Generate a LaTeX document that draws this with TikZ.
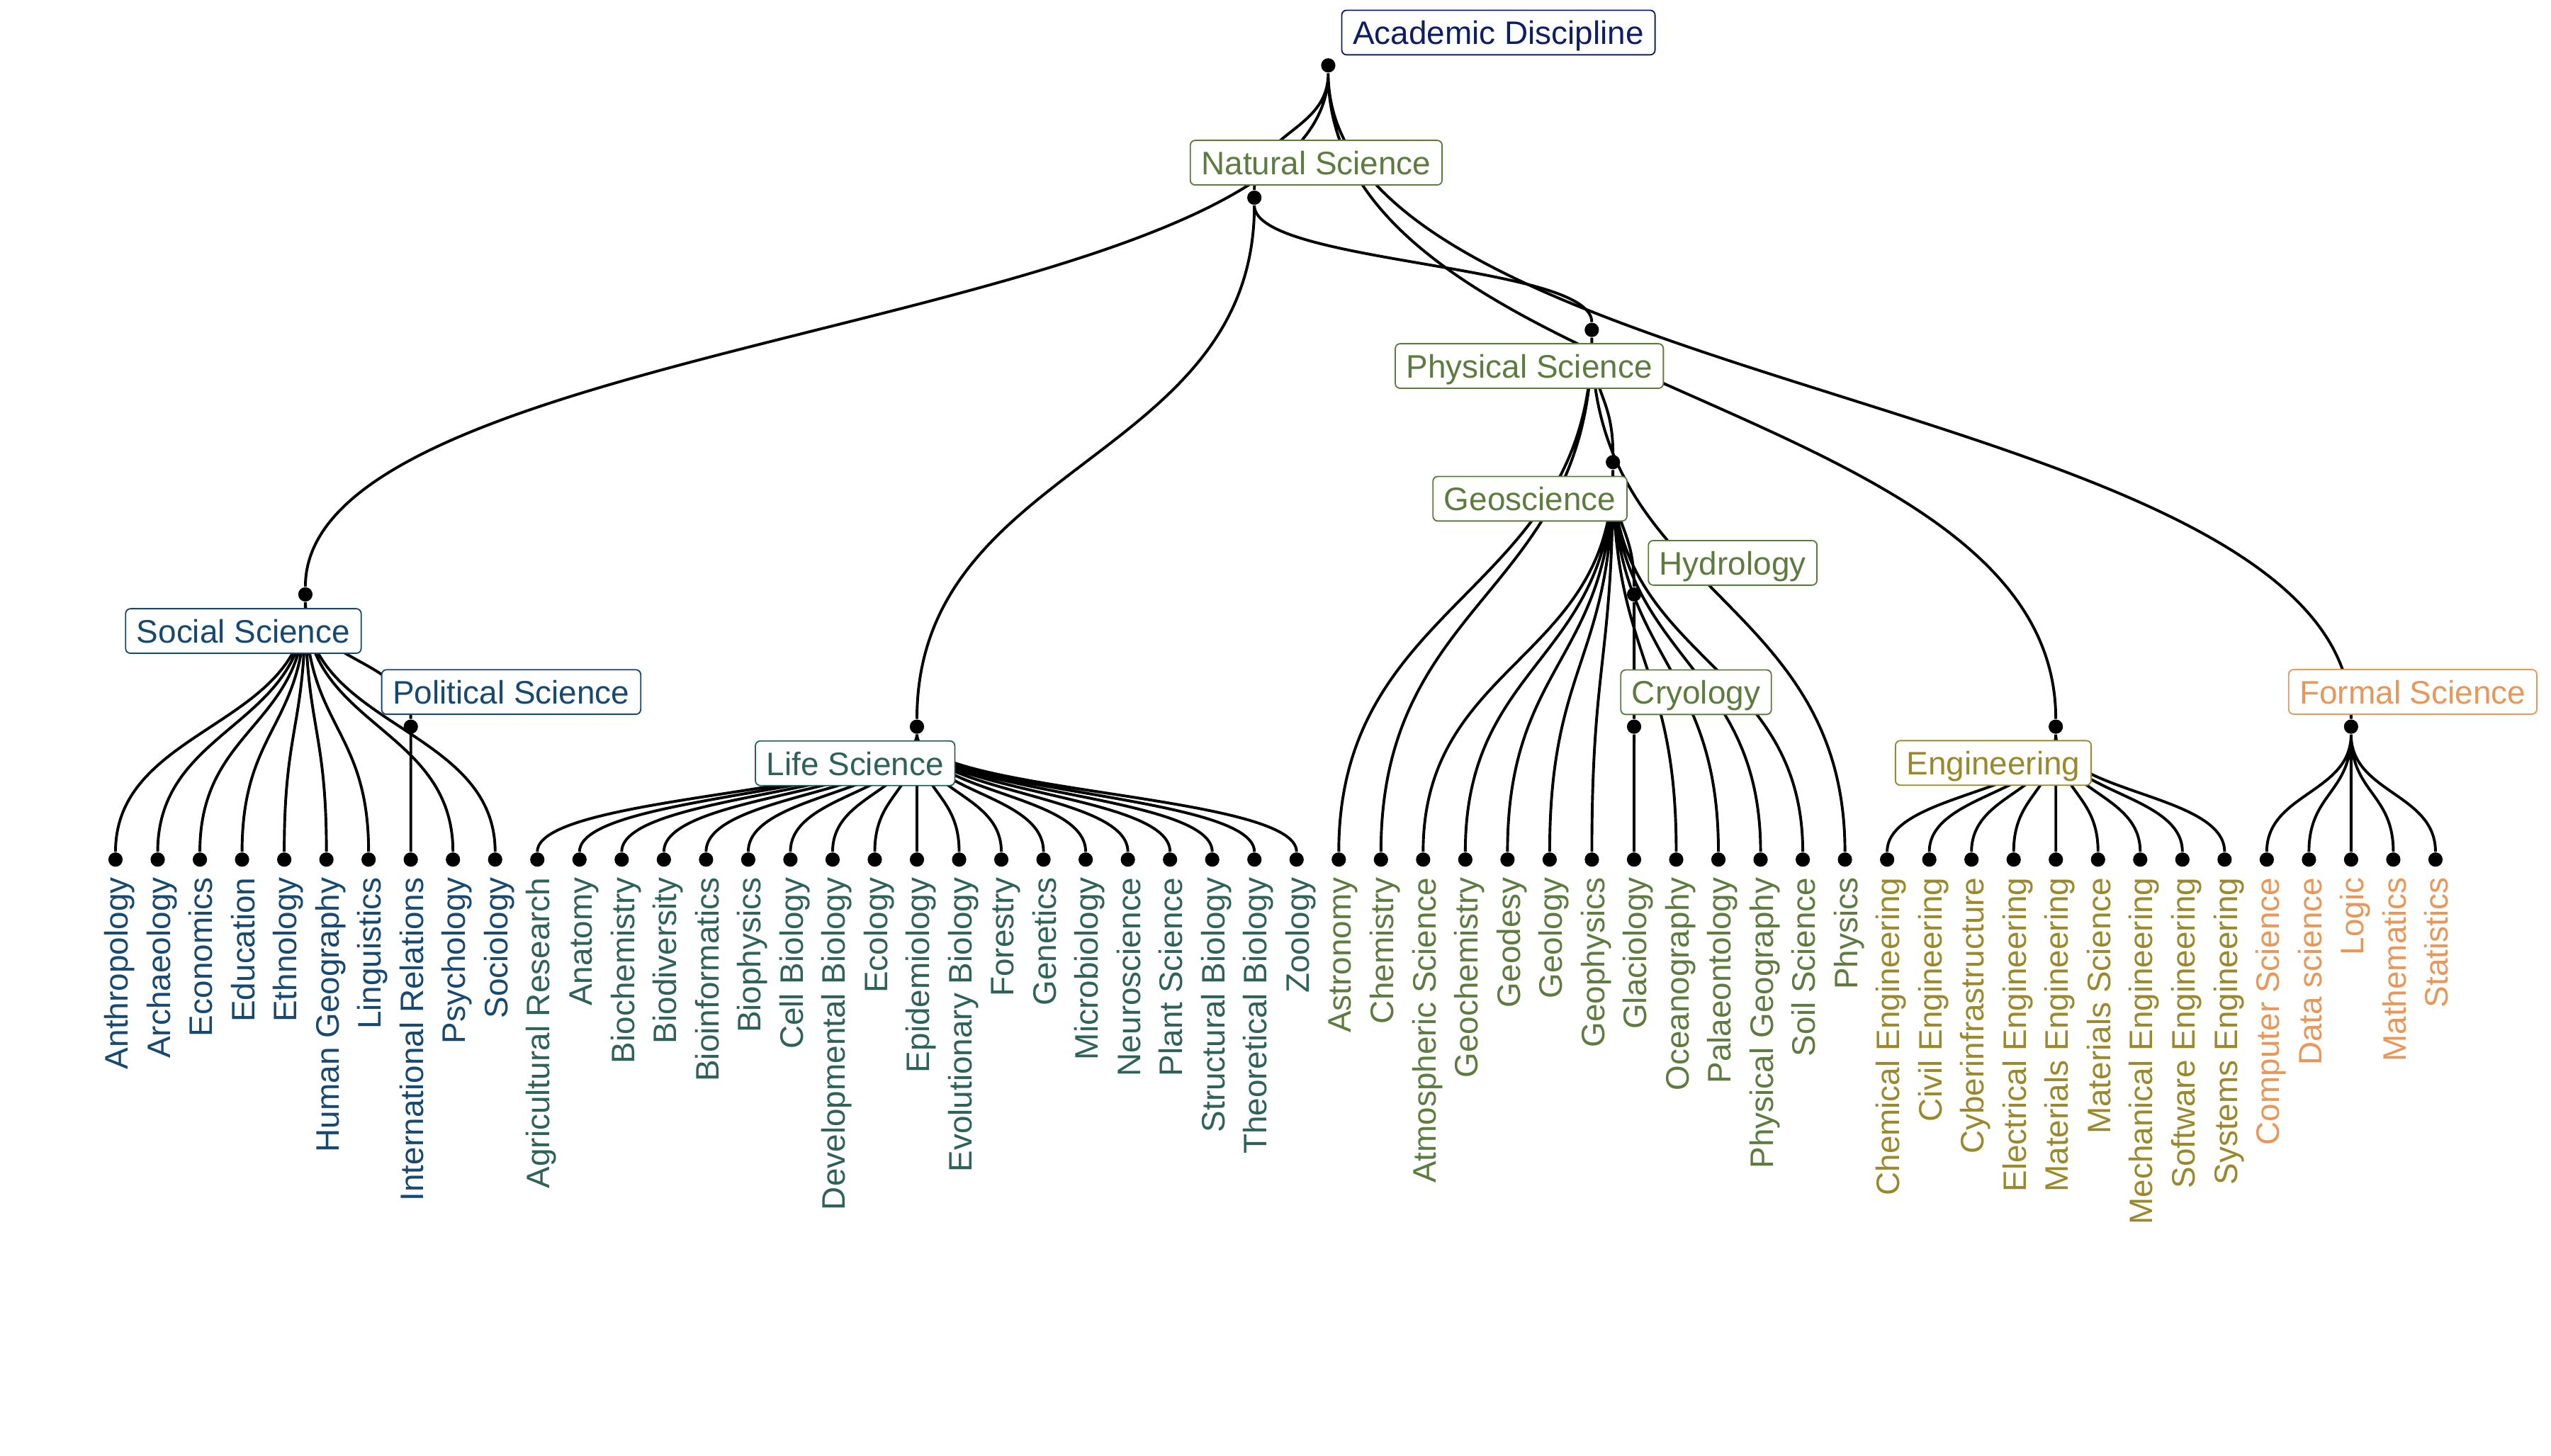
\documentclass[tikz,border=0pt]{standalone}
\usepackage{fontspec}
\setmainfont{Liberation Sans}
\usetikzlibrary{positioning,calc}
\definecolor{acadc}{HTML}{0E1E64}
\definecolor{natc}{HTML}{5E7B3F}
\definecolor{socc}{HTML}{164870}
\definecolor{lifc}{HTML}{2E6258}
\definecolor{engc}{HTML}{9A892C}
\definecolor{forc}{HTML}{E8975A}

\begin{document}
\begin{tikzpicture}[x=0.5pt, y=-0.5pt, node distance=12.9635pt, on grid, label distance=0pt,
  dot/.style={circle, fill=black, inner sep=0pt, minimum size=4.4pt},
  leaflab/.style={yshift=-2.9pt, rotate=90, anchor=east, inner sep=0pt, text height=7.7pt, text depth=0pt},
  socl/.style={dot, label={[leaflab, text=socc]below:#1}},
  lifl/.style={dot, label={[leaflab, text=lifc]below:#1}},
  natl/.style={dot, label={[leaflab, text=natc]below:#1}},
  engl/.style={dot, label={[leaflab, text=engc]below:#1}},
  forl/.style={dot, label={[leaflab, text=forc]below:#1}},
  box/.style={draw=#1, text=#1, fill=white, rounded corners=1.5pt, line width=0.4pt, inner xsep=3.4pt, inner ysep=3.2pt, text height=7.3pt, text depth=0pt},
  link/.style={line width=0.85pt, to path={let \p1=(\tikztostart), \p2=(\tikztotarget) in .. controls (\x1,{0.5*(\y1+\y2)}) and (\x2,{0.5*(\y1+\y2)}) .. (\tikztotarget)}}]
\useasboundingbox (0,0) rectangle (1568,895);

\node[dot] (root) at (816.4,40.2) {};
\node[dot] (nat) at (771.0,121.5) {};
\node[dot] (phys) at (978.4,202.8) {};
\node[dot] (geo) at (991.4,284.1) {};
\node[dot] (soc) at (187.7,365.4) {};
\node[dot] (hydro) at (1004.4,365.4) {};
\node[dot] (pol) at (252.5,446.7) {};
\node[dot] (life) at (563.6,446.7) {};
\node[dot] (cryo) at (1004.4,446.7) {};
\node[dot] (eng) at (1263.6,446.7) {};
\node[dot] (formal) at (1445.1,446.7) {};

\node[socl=Anthropology] (anthro) at (71,528.4) {};
\node[socl=Archaeology, right=of anthro] (archae) {};
\node[socl=Economics, right=of archae] (econ) {};
\node[socl=Education, right=of econ] (educ) {};
\node[socl=Ethnology, right=of educ] (ethno) {};
\node[socl=Human Geography, right=of ethno] (humgeo) {};
\node[socl=Linguistics, right=of humgeo] (ling) {};
\node[socl=International Relations, right=of ling] (intrel) {};
\node[socl=Psychology, right=of intrel] (psych) {};
\node[socl=Sociology, right=of psych] (socio) {};
\node[lifl=Agricultural Research, right=of socio] (agri) {};
\node[lifl=Anatomy, right=of agri] (anat) {};
\node[lifl=Biochemistry, right=of anat] (biochem) {};
\node[lifl=Biodiversity, right=of biochem] (biodiv) {};
\node[lifl=Bioinformatics, right=of biodiv] (bioinf) {};
\node[lifl=Biophysics, right=of bioinf] (biophys) {};
\node[lifl=Cell Biology, right=of biophys] (cellbio) {};
\node[lifl=Developmental Biology, right=of cellbio] (devbio) {};
\node[lifl=Ecology, right=of devbio] (ecol) {};
\node[lifl=Epidemiology, right=of ecol] (epid) {};
\node[lifl=Evolutionary Biology, right=of epid] (evobio) {};
\node[lifl=Forestry, right=of evobio] (forest) {};
\node[lifl=Genetics, right=of forest] (genet) {};
\node[lifl=Microbiology, right=of genet] (micro) {};
\node[lifl=Neuroscience, right=of micro] (neuro) {};
\node[lifl=Plant Science, right=of neuro] (plant) {};
\node[lifl=Structural Biology, right=of plant] (strbio) {};
\node[lifl=Theoretical Biology, right=of strbio] (theobio) {};
\node[lifl=Zoology, right=of theobio] (zool) {};
\node[natl=Astronomy, right=of zool] (astro) {};
\node[natl=Chemistry, right=of astro] (chem) {};
\node[natl=Atmospheric Science, right=of chem] (atmos) {};
\node[natl=Geochemistry, right=of atmos] (geochem) {};
\node[natl=Geodesy, right=of geochem] (geodesy) {};
\node[natl=Geology, right=of geodesy] (geol) {};
\node[natl=Geophysics, right=of geol] (geophys) {};
\node[natl=Glaciology, right=of geophys] (glac) {};
\node[natl=Oceanography, right=of glac] (ocean) {};
\node[natl=Palaeontology, right=of ocean] (palaeo) {};
\node[natl=Physical Geography, right=of palaeo] (physgeo) {};
\node[natl=Soil Science, right=of physgeo] (soil) {};
\node[natl=Physics, right=of soil] (physics) {};
\node[engl=Chemical Engineering, right=of physics] (chemeng) {};
\node[engl=Civil Engineering, right=of chemeng] (civeng) {};
\node[engl=Cyberinfrastructure, right=of civeng] (cyber) {};
\node[engl=Electrical Engineering, right=of cyber] (eleceng) {};
\node[engl=Materials Engineering, right=of eleceng] (mateng) {};
\node[engl=Materials Science, right=of mateng] (matsci) {};
\node[engl=Mechanical Engineering, right=of matsci] (mecheng) {};
\node[engl=Software Engineering, right=of mecheng] (softeng) {};
\node[engl=Systems Engineering, right=of softeng] (syseng) {};
\node[forl=Computer Science, right=of syseng] (compsci) {};
\node[forl=Data science, right=of compsci] (datasci) {};
\node[forl=Logic, right=of datasci] (logic) {};
\node[forl=Mathematics, right=of logic] (math) {};
\node[forl=Statistics, right=of math] (stat) {};

\draw[link] (root) to (soc) (root) to (nat) (root) to (eng) (root) to (formal);
\draw[link] (nat) to (life) (nat) to (phys);
\draw[link] (phys) to (astro) (phys) to (chem) (phys) to (geo) (phys) to (physics);
\draw[link] (geo) to (atmos) (geo) to (geochem) (geo) to (geodesy) (geo) to (geol) (geo) to (geophys) (geo) to (hydro) (geo) to (ocean) (geo) to (palaeo) (geo) to (physgeo) (geo) to (soil);
\draw[link] (hydro) to (cryo) (cryo) to (glac);
\draw[link] (soc) to (anthro) (soc) to (archae) (soc) to (econ) (soc) to (educ) (soc) to (ethno) (soc) to (humgeo) (soc) to (ling) (soc) to (pol) (soc) to (psych) (soc) to (socio);
\draw[link] (pol) to (intrel);
\draw[link] (life) to (agri) (life) to (anat) (life) to (biochem) (life) to (biodiv) (life) to (bioinf) (life) to (biophys) (life) to (cellbio) (life) to (devbio) (life) to (ecol) (life) to (epid);
\draw[link] (life) to (evobio) (life) to (forest) (life) to (genet) (life) to (micro) (life) to (neuro) (life) to (plant) (life) to (strbio) (life) to (theobio) (life) to (zool);
\draw[link] (eng) to (chemeng) (eng) to (civeng) (eng) to (cyber) (eng) to (eleceng) (eng) to (mateng) (eng) to (matsci) (eng) to (mecheng) (eng) to (softeng) (eng) to (syseng);
\draw[link] (formal) to (compsci) (formal) to (datasci) (formal) to (logic) (formal) to (math) (formal) to (stat);

\node[box=acadc] (rootlab) at (921,20) {Academic Discipline};
\node[box=natc] (natlab) at (809,100) {Natural Science};
\node[box=natc] (physlab) at (940,225) {Physical Science};
\node[box=natc] (geolab) at (940.4,306.6) {Geoscience};
\node[box=natc] (hydrolab) at (1065,346) {Hydrology};
\node[box=natc] (cryolab) at (1042.5,425.5) {Cryology};
\node[box=socc] (soclab) at (149.6,387.9) {Social Science};
\node[box=socc] (pollab) at (314.2,425.4) {Political Science};
\node[box=lifc] (lifelab) at (525.6,469.2) {Life Science};
\node[box=engc] (englab) at (1225.2,469) {Engineering};
\node[box=forc] (formallab) at (1483,425.3) {Formal Science};
\end{tikzpicture}
\end{document}
